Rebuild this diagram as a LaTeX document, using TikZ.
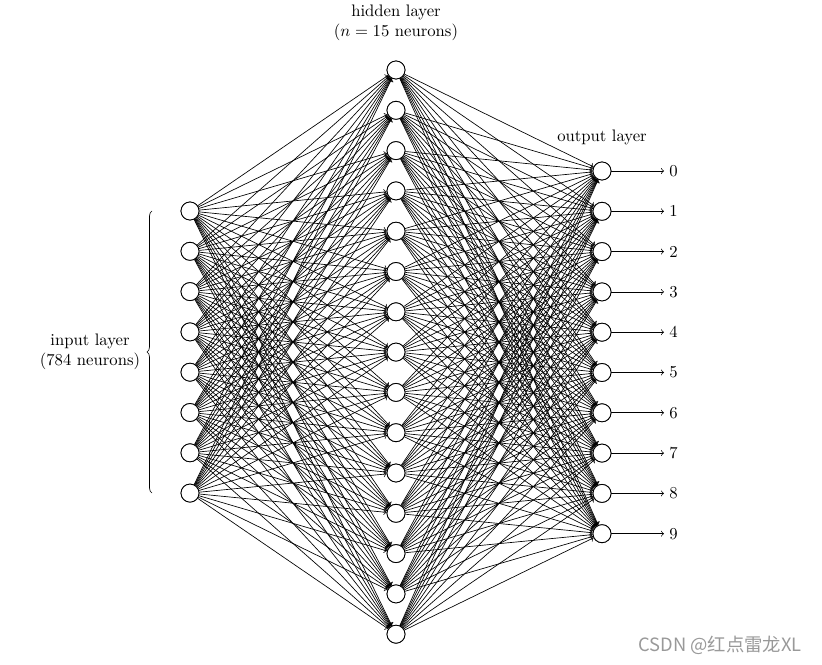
\documentclass[tikz,border=0pt]{standalone}
\usepackage{fontspec}
\newfontfamily\cjkwm{Noto Sans CJK SC}
\usetikzlibrary{decorations.pathreplacing}
\begin{document}
\begin{tikzpicture}[x=0.6pt,y=-0.6pt,
  neuron/.style={circle,draw,fill=white,minimum size=10.8pt,inner sep=0pt,line width=0.5pt},
  edge/.style={->,line width=0.4pt},
  lbl/.style={font=\normalsize,align=center}]
\useasboundingbox (0,0) rectangle (822,665);
% nodes
\foreach \i in {0,...,7}
  \node[neuron] (I\i) at (190,{211+40.3*\i}) {};
\foreach \i in {0,...,14}
  \node[neuron] (H\i) at (396,{70+40.3*\i}) {};
\foreach \i in {0,...,9}{
  \node[neuron] (O\i) at (602,{171+40.3*\i}) {};
  \node[anchor=west,inner sep=0pt] (L\i) at (669,{171+40.3*\i}) {\i};
  \coordinate (E\i) at (664,{171+40.3*\i});
}
% edges
\foreach \i in {0,...,7}
  \foreach \j in {0,...,14}
    \draw[edge] (I\i) -- (H\j);
\foreach \j in {0,...,14}
  \foreach \k in {0,...,9}
    \draw[edge] (H\j) -- (O\k);
\foreach \k in {0,...,9}
  \draw[edge] (O\k) -- (E\k);
% redraw neurons on top
\foreach \i in {0,...,7}
  \node[neuron] at (I\i) {};
\foreach \i in {0,...,14}
  \node[neuron] at (H\i) {};
\foreach \i in {0,...,9}
  \node[neuron] at (O\i) {};
% labels
\node[lbl] (hl) at (396,23) {hidden layer\\($n=15$ neurons)};
\node[lbl] (ol) at (602,137) {output layer};
\node[lbl] (il) at (90,352) {input layer\\(784 neurons)};
\coordinate (b1) at (152,493);
\coordinate (b2) at (152,211);
\draw[decorate,decoration={brace,amplitude=3pt},line width=0.4pt] (b1) -- (b2);
% watermark
\node[text=black!40,font=\cjkwm\fontsize{11pt}{13pt}\selectfont] (wm) at (720,645) {CSDN @红点雷龙XL};
\end{tikzpicture}
\end{document}
